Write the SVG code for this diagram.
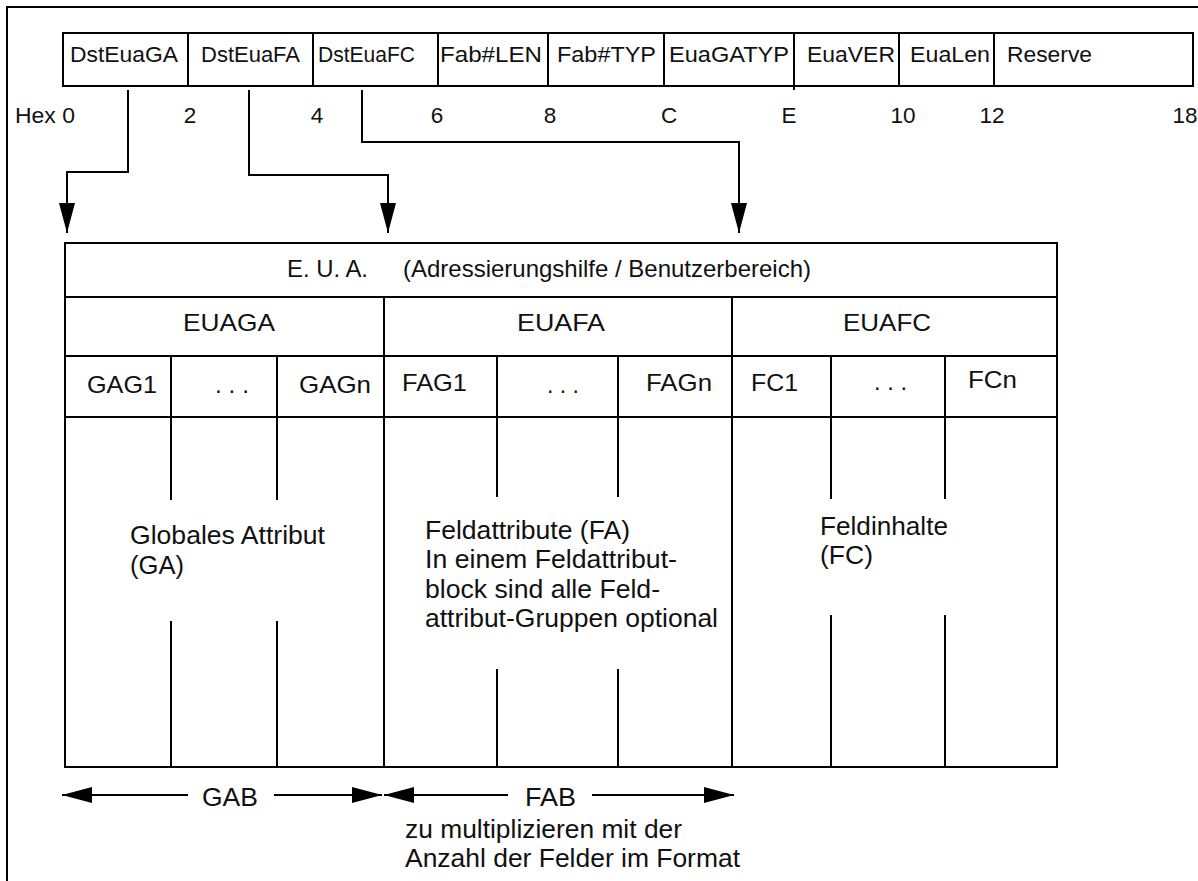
<svg xmlns="http://www.w3.org/2000/svg" width="1198" height="881" viewBox="0 0 1198 881">
  <defs>
    <style>
      .ln { fill: none; stroke: #000; stroke-width: 2; }
      .cell { fill: #fff; stroke: #000; stroke-width: 2; }
      text { font-family: "Liberation Sans", Arial, Helvetica, sans-serif; fill: #111; }
      .hd { font-size: 22.5px; }
      .tb { font-size: 24.5px; }
      .bd { font-size: 25.5px; }
      .mid { text-anchor: middle; }
    </style>
    <marker id="head" viewBox="0 0 30 16" refX="30" refY="8" markerWidth="30" markerHeight="16" markerUnits="userSpaceOnUse" orient="auto">
      <path d="M0,0 L30,8 L0,16 Z" fill="#000"/>
    </marker>
  </defs>

  <rect x="0" y="0" width="1198" height="881" fill="#fff"/>

  <!-- page frame (open to the right and bottom) -->
  <path class="ln" d="M7,881 V7 H1198"/>

  <!-- record header fields -->
  <g id="header">
    <g id="f-dsteuaga"><rect class="cell" x="63" y="33" width="125" height="53"/><text class="hd" x="70" y="62" textLength="108" lengthAdjust="spacingAndGlyphs">DstEuaGA</text></g>
    <g id="f-dsteuafa"><rect class="cell" x="188" y="33" width="125" height="53"/><text class="hd" x="201" y="62" textLength="99" lengthAdjust="spacingAndGlyphs">DstEuaFA</text></g>
    <g id="f-dsteuafc"><rect class="cell" x="313" y="33" width="125" height="53"/><text class="hd" x="318" y="62" textLength="97" lengthAdjust="spacingAndGlyphs">DstEuaFC</text></g>
    <g id="f-fablen"><rect class="cell" x="438" y="33" width="110" height="53"/><text class="hd" x="440" y="62" textLength="102" lengthAdjust="spacingAndGlyphs">Fab#LEN</text></g>
    <g id="f-fabtyp"><rect class="cell" x="548" y="33" width="116" height="53"/><text class="hd" x="557" y="62" textLength="99" lengthAdjust="spacingAndGlyphs">Fab#TYP</text></g>
    <g id="f-euagatyp"><rect class="cell" x="664" y="33" width="130" height="53"/><text class="hd" x="669" y="62" textLength="120" lengthAdjust="spacingAndGlyphs">EuaGATYP</text></g>
    <g id="f-euaver"><rect class="cell" x="794" y="33" width="105" height="53"/><text class="hd" x="807" y="62" textLength="88" lengthAdjust="spacingAndGlyphs">EuaVER</text></g>
    <g id="f-eualen"><rect class="cell" x="899" y="33" width="95" height="53"/><text class="hd" x="910" y="62" textLength="80" lengthAdjust="spacingAndGlyphs">EuaLen</text></g>
    <g id="f-reserve"><rect class="cell" x="994" y="33" width="199" height="53"/><text class="hd" x="1007" y="62" textLength="85" lengthAdjust="spacingAndGlyphs">Reserve</text></g>
    <path class="ln" d="M794,86 V90"/>
  </g>

  <!-- hex offsets -->
  <g id="offsets" class="hd">
    <text x="15" y="123" textLength="60" lengthAdjust="spacingAndGlyphs">Hex 0</text>
    <text class="mid" x="190" y="123">2</text>
    <text class="mid" x="317" y="123">4</text>
    <text class="mid" x="437" y="123">6</text>
    <text class="mid" x="550" y="123">8</text>
    <text class="mid" x="669" y="123">C</text>
    <text class="mid" x="789" y="123">E</text>
    <text class="mid" x="903" y="123">10</text>
    <text class="mid" x="992" y="123">12</text>
    <text class="mid" x="1185" y="123">18</text>
  </g>

  <!-- pointers from header fields into the user area -->
  <g id="connectors">
    <path class="ln" d="M128,90 V172 H67 V233" marker-end="url(#head)"/>
    <path class="ln" d="M249,90 V175 H388 V233" marker-end="url(#head)"/>
    <path class="ln" d="M362,90 V142 H739 V233" marker-end="url(#head)"/>
  </g>

  <!-- user area block -->
  <g id="eua">
    <rect class="cell" x="65" y="243" width="992" height="524"/>
    <path class="ln" d="M65,297 H1057 M65,356 H1057 M65,417 H1057"/>
    <text class="tb" x="287" y="277" textLength="81" lengthAdjust="spacingAndGlyphs">E. U. A.</text>
    <text class="tb" x="403" y="277" textLength="408" lengthAdjust="spacingAndGlyphs">(Adressierungshilfe / Benutzerbereich)</text>
  </g>

  <g id="euaga">
    <path class="ln" d="M171,356 V500 M277,356 V500 M171,621 V767 M277,621 V767"/>
    <text class="tb" x="183" y="331" textLength="92" lengthAdjust="spacingAndGlyphs">EUAGA</text>
    <text class="tb" x="87" y="393" textLength="70" lengthAdjust="spacingAndGlyphs">GAG1</text>
    <text class="tb" x="215" y="393" textLength="34" lengthAdjust="spacingAndGlyphs">. . .</text>
    <text class="tb" x="299" y="393" textLength="72" lengthAdjust="spacingAndGlyphs">GAGn</text>
    <text class="bd" x="130" y="544" textLength="195" lengthAdjust="spacingAndGlyphs">Globales Attribut</text>
    <text class="bd" x="130" y="574" textLength="54" lengthAdjust="spacingAndGlyphs">(GA)</text>
  </g>

  <g id="euafa">
    <path class="ln" d="M384,297 V767"/>
    <path class="ln" d="M497,356 V497 M618,356 V497 M497,669 V767 M618,669 V767"/>
    <text class="tb" x="517" y="331" textLength="88" lengthAdjust="spacingAndGlyphs">EUAFA</text>
    <text class="tb" x="402" y="391" textLength="65" lengthAdjust="spacingAndGlyphs">FAG1</text>
    <text class="tb" x="547" y="393" textLength="32" lengthAdjust="spacingAndGlyphs">. . .</text>
    <text class="tb" x="646" y="391" textLength="66" lengthAdjust="spacingAndGlyphs">FAGn</text>
    <text class="bd" x="425" y="539" textLength="205" lengthAdjust="spacingAndGlyphs">Feldattribute (FA)</text>
    <text class="bd" x="425" y="568" textLength="252" lengthAdjust="spacingAndGlyphs">In einem Feldattribut-</text>
    <text class="bd" x="425" y="598" textLength="235" lengthAdjust="spacingAndGlyphs">block sind alle Feld-</text>
    <text class="bd" x="425" y="627" textLength="293" lengthAdjust="spacingAndGlyphs">attribut-Gruppen optional</text>
  </g>

  <g id="euafc">
    <path class="ln" d="M732,297 V767"/>
    <path class="ln" d="M831,356 V499 M945,356 V499 M831,615 V767 M945,615 V767"/>
    <text class="tb" x="843" y="331" textLength="88" lengthAdjust="spacingAndGlyphs">EUAFC</text>
    <text class="tb" x="751" y="391" textLength="47" lengthAdjust="spacingAndGlyphs">FC1</text>
    <text class="tb" x="874" y="390" textLength="33" lengthAdjust="spacingAndGlyphs">. . .</text>
    <text class="tb" x="968" y="388" textLength="49" lengthAdjust="spacingAndGlyphs">FCn</text>
    <text class="bd" x="820" y="535" textLength="128" lengthAdjust="spacingAndGlyphs">Feldinhalte</text>
    <text class="bd" x="820" y="564" textLength="53" lengthAdjust="spacingAndGlyphs">(FC)</text>
  </g>

  <!-- block extents -->
  <g id="extent-gab">
    <path class="ln" d="M188,795 H62" marker-end="url(#head)"/>
    <path class="ln" d="M274,795 H382" marker-end="url(#head)"/>
    <text class="bd" x="202" y="806" textLength="56" lengthAdjust="spacingAndGlyphs">GAB</text>
  </g>
  <g id="extent-fab">
    <path class="ln" d="M508,795 H384" marker-end="url(#head)"/>
    <path class="ln" d="M592,795 H734" marker-end="url(#head)"/>
    <text class="bd" x="525" y="806" textLength="51" lengthAdjust="spacingAndGlyphs">FAB</text>
    <text class="bd" x="405" y="838" textLength="277" lengthAdjust="spacingAndGlyphs">zu multiplizieren mit der</text>
    <text class="bd" x="405" y="867" textLength="335" lengthAdjust="spacingAndGlyphs">Anzahl der Felder im Format</text>
  </g>
</svg>
